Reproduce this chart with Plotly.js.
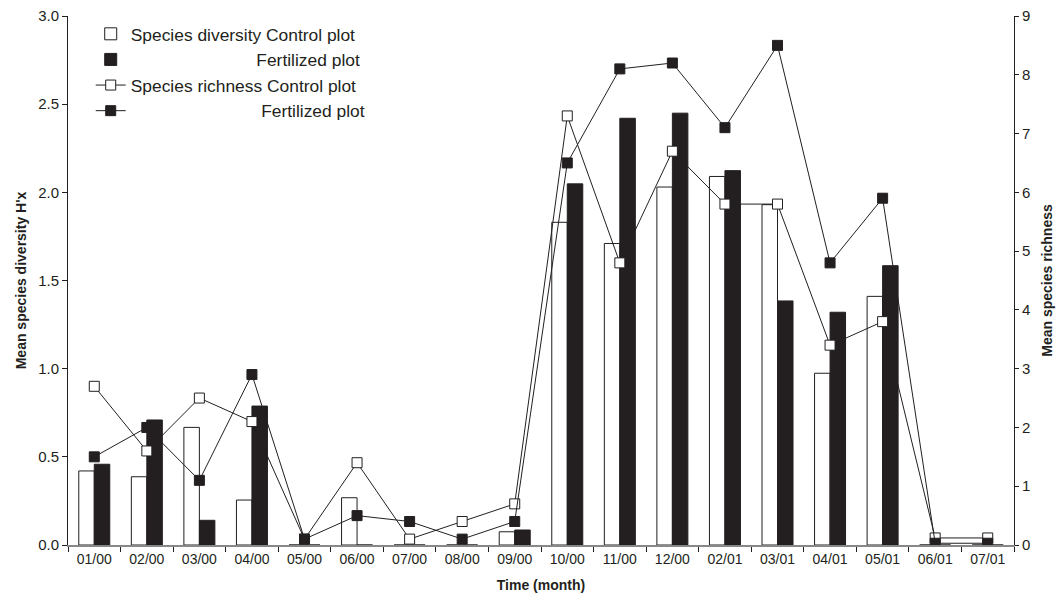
<!DOCTYPE html>
<html>
<head>
<meta charset="utf-8">
<script src="https://cdn.plot.ly/plotly-3.0.1.min.js"></script>
<style>html,body{margin:0;padding:0;background:#fff}#chart{width:1063px;height:600px}</style>
</head>
<body>
<div id="chart"></div>
<script>
const months = ['01/00','02/00','03/00','04/00','05/00','06/00','07/00','08/00','09/00','10/00','11/00','12/00','02/01','03/01','04/01','05/01','06/01','07/01'];
const diversityControl = [0.42, 0.387, 0.667, 0.255, 0, 0.268, 0, 0, 0.075, 1.83, 1.71, 2.03, 2.09, 1.93, 0.974, 1.41, 0, 0];
const diversityFertilized = [0.458, 0.709, 0.14, 0.788, 0, 0, 0, 0, 0.085, 2.048, 2.42, 2.449, 2.123, 1.384, 1.32, 1.584, 0, 0];
const richnessControl = [2.7, 1.6, 2.5, 2.1, 0.1, 1.4, 0.1, 0.4, 0.7, 7.3, 4.8, 6.7, 5.8, 5.8, 3.4, 3.8, 0.12, 0.12];
const richnessFertilized = [1.5, 2.0, 1.1, 2.9, 0.1, 0.5, 0.4, 0.1, 0.4, 6.5, 8.1, 8.2, 7.1, 8.5, 4.8, 5.9, 0.03, 0.03];
const leftTicks = [0, 0.5, 1.0, 1.5, 2.0, 2.5, 3.0];
const rightTicks = [0, 1, 2, 3, 4, 5, 6, 7, 8, 9];

const pad = n => '\u00A0'.repeat(n);
const ink = '#231f20';

const traces = [
  {type:'bar', name:'Species diversity Control plot', x:months, y:diversityControl,
   marker:{color:'#ffffff', line:{color:ink, width:1}}, legendgroup:'a'},
  {type:'bar', name:pad(26)+'Fertilized plot', x:months, y:diversityFertilized,
   marker:{color:ink, line:{color:ink, width:1}}, legendgroup:'b'},
  {type:'scatter', mode:'lines+markers', name:'Species richness Control plot', x:months, y:richnessControl, yaxis:'y2',
   line:{color:ink, width:1}, marker:{symbol:'square', size:10, color:'#ffffff', line:{color:ink, width:1}}, legendgroup:'c'},
  {type:'scatter', mode:'lines+markers', name:pad(27)+'Fertilized plot', x:months, y:richnessFertilized, yaxis:'y2',
   line:{color:ink, width:1}, marker:{symbol:'square', size:10, color:ink, line:{color:ink, width:1}}, legendgroup:'d'}
];

const font = {family:'"Liberation Sans", Arial, sans-serif', size:14, color:'#231f20'};

const layout = {
  width:1063, height:600,
  margin:{l:68, r:49, t:16, b:55},
  paper_bgcolor:'#fff', plot_bgcolor:'#fff',
  font:font,
  barmode:'group', bargap:0.41, bargroupgap:0,
  showlegend:true,
  legend:{x:0.024, xanchor:'left', y:1.0, yanchor:'top', bgcolor:'rgba(0,0,0,0)',
          font:{family:font.family, size:17.4, color:ink}, traceorder:'grouped', tracegroupgap:0},
  xaxis:{type:'category', range:[-0.5, 17.5], autorange:false, showline:true, linecolor:'#888', linewidth:2,
         ticks:'outside', tickson:'boundaries',
         ticklen:5, tickcolor:ink, tickwidth:1, showgrid:false, zeroline:false,
         title:{text:'<b>Time (month)</b>', font:{family:font.family, size:14, color:ink}, standoff:14},
         tickfont:{size:14}},
  yaxis:{range:[0,3], tickvals:leftTicks, tickformat:'.1f', showline:true, linecolor:ink, linewidth:1,
         ticks:'outside', ticklen:5, tickcolor:ink, showgrid:false, zeroline:false,
         title:{text:"<b>Mean species diversity H'x</b>", font:{family:font.family, size:14, color:ink}, standoff:8},
         tickfont:{size:15}},
  yaxis2:{range:[0,9], tickvals:rightTicks, overlaying:'y', side:'right', showline:true, linecolor:ink, linewidth:1,
          ticks:'outside', ticklen:4, tickcolor:ink, showgrid:false, zeroline:false,
          title:{text:'<b>Mean species richness</b>', font:{family:font.family, size:14, color:ink}, standoff:12},
          tickfont:{size:15}}
};

Plotly.newPlot('chart', traces, layout, {displayModeBar:false, staticPlot:true});
</script>
</body>
</html>
